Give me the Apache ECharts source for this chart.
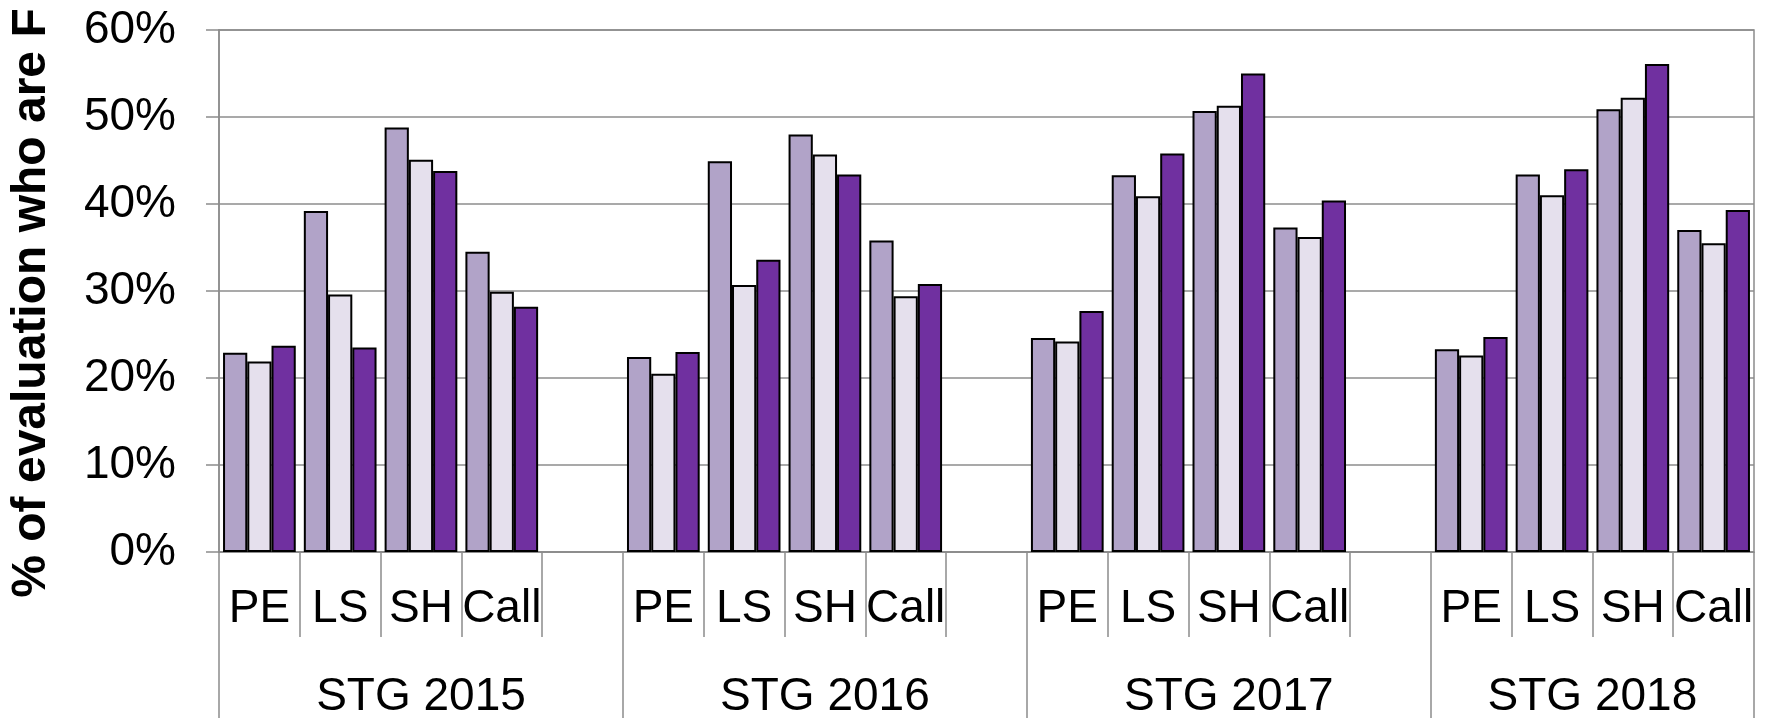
<!DOCTYPE html>
<html>
<head>
<meta charset="utf-8">
<script src="https://cdn.jsdelivr.net/npm/echarts@6/dist/echarts.min.js"></script>
<style>html,body{margin:0;padding:0;background:#fff}#c{width:1766px;height:720px}</style>
</head>
<body>
<div id="c"></div>
<script>
var subCats = ['PE', 'LS', 'SH', 'Call'];
var groups = ['STG 2015', 'STG 2016', 'STG 2017', 'STG 2018'];
var yTicks = [0, 10, 20, 30, 40, 50, 60];
var yTitle = '% of evaluation who are F';

// values in %, per group: [PE, LS, SH, Call]
var seriesA = [[22.9, 39.2, 48.8, 34.5], [22.4, 44.9, 48.0, 35.8], [24.6, 43.3, 50.7, 37.3], [23.3, 43.4, 50.9, 37.0]];
var seriesB = [[21.9, 29.6, 45.1, 29.9], [20.5, 30.7, 45.7, 29.4], [24.2, 40.9, 51.3, 36.2], [22.6, 41.0, 52.2, 35.5]];
var seriesC = [[23.7, 23.5, 43.8, 28.2], [23.0, 33.6, 43.4, 30.8], [27.7, 45.8, 55.0, 40.4], [24.7, 44.0, 56.1, 39.3]];

var colors = ['#b1a3c8', '#e5e0ed', '#7030a0'];
var FONT = 'Liberation Sans, Arial, sans-serif';
var GRAY = '#8c8c8c';

// build slot categories: each group gets its sub-categories plus a spacer slot (except the last group)
var slots = [];
groups.forEach(function (g, gi) {
  subCats.forEach(function (s) { slots.push(s); });
  if (gi < groups.length - 1) slots.push('');
});
function flatten(arr) {
  var out = [];
  arr.forEach(function (vals, gi) {
    vals.forEach(function (v) { out.push(v); });
    if (gi < arr.length - 1) out.push(null);
  });
  return out;
}

// group axis: half-slot points (boundaryGap false)
var nHalf = slots.length * 2 + 1;
var halfData = [];
for (var k = 0; k < nHalf; k++) halfData.push('');
var bounds = [0];
var pos = 0;
groups.forEach(function (g, gi) {
  var n = subCats.length + (gi < groups.length - 1 ? 1 : 0);
  halfData[pos + n] = g;
  pos += 2 * n;
  bounds.push(pos);
});

var chart = echarts.init(document.getElementById('c'));
chart.setOption({
  animation: false,
  grid: { left: 213, right: 12, top: 30, bottom: 165, show: true, borderColor: GRAY, borderWidth: 1.5, containLabel: false },
  xAxis: [{
    type: 'category',
    data: slots,
    axisLine: { lineStyle: { color: GRAY, width: 1.5 } },
    axisTick: { show: true, interval: 0, length: 85, lineStyle: { color: GRAY, width: 1.5 } },
    axisLabel: { interval: 0, color: '#000', fontSize: 46, fontFamily: FONT, margin: 34 }
  }, {
    type: 'category',
    position: 'bottom',
    offset: 85,
    boundaryGap: false,
    data: halfData,
    axisLine: { show: false },
    axisTick: { show: true, length: 81, lineStyle: { color: GRAY, width: 1.5 },
      interval: function (i) { return bounds.indexOf(i) >= 0; } },
    axisLabel: { interval: 0, color: '#000', fontSize: 46, fontFamily: FONT, margin: 37 }
  }],
  yAxis: {
    type: 'value',
    min: yTicks[0], max: yTicks[yTicks.length - 1], interval: 10,
    name: yTitle,
    nameLocation: 'middle',
    nameRotate: 90,
    nameGap: 163,
    nameTextStyle: { fontSize: 48, fontWeight: 'bold', color: '#000', fontFamily: FONT, padding: [0, 24, 0, 0] },
    axisLine: { show: true, lineStyle: { color: GRAY, width: 1.5 } },
    axisTick: { show: true, length: 13, lineStyle: { color: GRAY, width: 1.5 } },
    axisLabel: { formatter: '{value}%', color: '#000', fontSize: 46, fontFamily: FONT, margin: 43 },
    splitLine: { show: true, lineStyle: { color: GRAY, width: 1.5 } }
  },
  series: [seriesA, seriesB, seriesC].map(function (s, i) {
    return {
      type: 'bar',
      data: flatten(s),
      barGap: '0%',
      barCategoryGap: '10%',
      itemStyle: { color: colors[i], borderColor: '#000', borderWidth: 2 }
    };
  })
});
</script>
</body>
</html>
